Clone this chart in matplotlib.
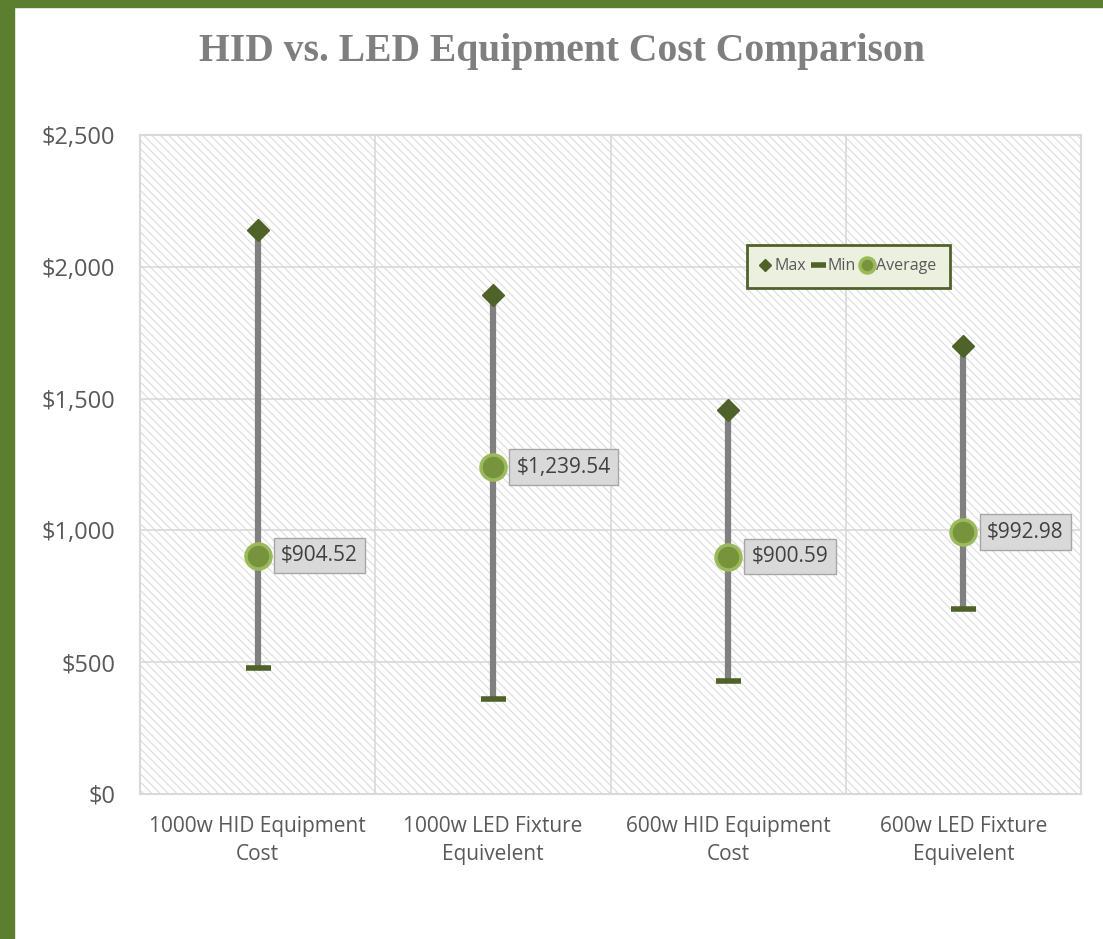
import matplotlib
matplotlib.use("Agg")
import matplotlib.pyplot as plt
from matplotlib.patches import Rectangle
import numpy as np

categories = ["1000w HID Equipment\nCost", "1000w LED Fixture\nEquivelent",
              "600w HID Equipment\nCost", "600w LED Fixture\nEquivelent"]
max_vals = [2140, 1893, 1457, 1700]
min_vals = [478, 360, 429, 702]
avg_vals = [904.52, 1239.54, 900.59, 992.98]
yticks = [0, 500, 1000, 1500, 2000, 2500]

W, H = 1103, 939
fig = plt.figure(figsize=(W/100, H/100), dpi=100)
fig.patch.set_facecolor("white")

# green frame (left and top)
green = "#5b7f2f"
fig.patches.append(Rectangle((0, 0), 14/W, 1, transform=fig.transFigure, color=green, zorder=0))
fig.patches.append(Rectangle((0, 1-7/H), 1, 7/H, transform=fig.transFigure, color=green, zorder=0))

left, right, top, bottom = 140, 1081, 135, 794
ax = fig.add_axes([left/W, 1-bottom/H, (right-left)/W, (bottom-top)/H])
ax.set_xlim(-0.5, 3.5)
ax.set_ylim(0, 2500)

# hatched background
plt.rcParams['hatch.color'] = '#dcdcdc'
plt.rcParams['hatch.linewidth'] = 0.8
bg = Rectangle((0, 0), 1, 1, transform=ax.transAxes, facecolor="white",
               hatch="\\\\\\\\", edgecolor="#dcdcdc", linewidth=0, zorder=0)
ax.add_patch(bg)

for s in ax.spines.values():
    s.set_color("#d9d9d9")
    s.set_linewidth(1.5)

ax.set_yticks(yticks)
ax.set_yticklabels([f"${v:,}" for v in yticks])
ax.set_xticks(range(len(categories)))
ax.set_xticklabels(categories, linespacing=1.45)
ax.tick_params(length=0, labelcolor="#595959")
ax.tick_params(axis="y", labelsize=17, pad=18)
ax.tick_params(axis="x", labelsize=15, pad=16)
for lab in ax.get_xticklabels() + ax.get_yticklabels():
    lab.set_fontfamily("Open Sans")

for y in yticks[1:-1]:
    ax.axhline(y, color="#d9d9d9", lw=1.2, zorder=1)
for x in [0.5, 1.5, 2.5]:
    ax.axvline(x, color="#d9d9d9", lw=1.2, zorder=1)

xs = np.arange(len(categories))
ax.vlines(xs, min_vals, max_vals, color="#808080", lw=4.5, zorder=2)
ax.plot(xs, max_vals, ls="none", marker="D", ms=11, color="#4f6228", zorder=3, label="Max")
ax.plot(xs, min_vals, ls="none", marker="_", ms=18, mew=4, color="#4f6228", zorder=3, label="Min")
ax.plot(xs, avg_vals, ls="none", marker="o", ms=18, mfc="#77933c", mec="#9bbb59", mew=2.5,
        zorder=4, label="Average")

for x, v in zip(xs, avg_vals):
    ax.annotate(f"${v:,.2f}", (x, v), xytext=(17, 0), textcoords="offset points",
                va="center", ha="left", fontsize=15, color="#404040", family="Open Sans",
                bbox=dict(boxstyle="square,pad=0.35", fc="#d9d9d9", ec="#a6a6a6", lw=1),
                zorder=5)

leg = ax.legend(loc="center", bbox_to_anchor=((848.5-left)/(right-left), 1-(266.5-top)/(bottom-top)),
                ncol=3, frameon=True, fancybox=False, handlelength=0.6,
                handletextpad=0.3, columnspacing=0.4, borderpad=0.85, borderaxespad=0,
                prop={"family": "Open Sans", "size": 11.5}, markerscale=0.6)
leg.get_frame().set_facecolor("#ebf1de")
leg.get_frame().set_edgecolor("#4f6228")
leg.get_frame().set_linewidth(2)
leg.get_frame().set_alpha(1)
for t in leg.get_texts():
    t.set_color("#595959")

fig.text(562/W, 1-52/H, "HID vs. LED Equipment Cost Comparison", ha="center", va="center",
         fontsize=28.5, fontweight="bold", color="#7f7f7f", family="Liberation Serif")

fig.savefig("out.png", dpi=100)
